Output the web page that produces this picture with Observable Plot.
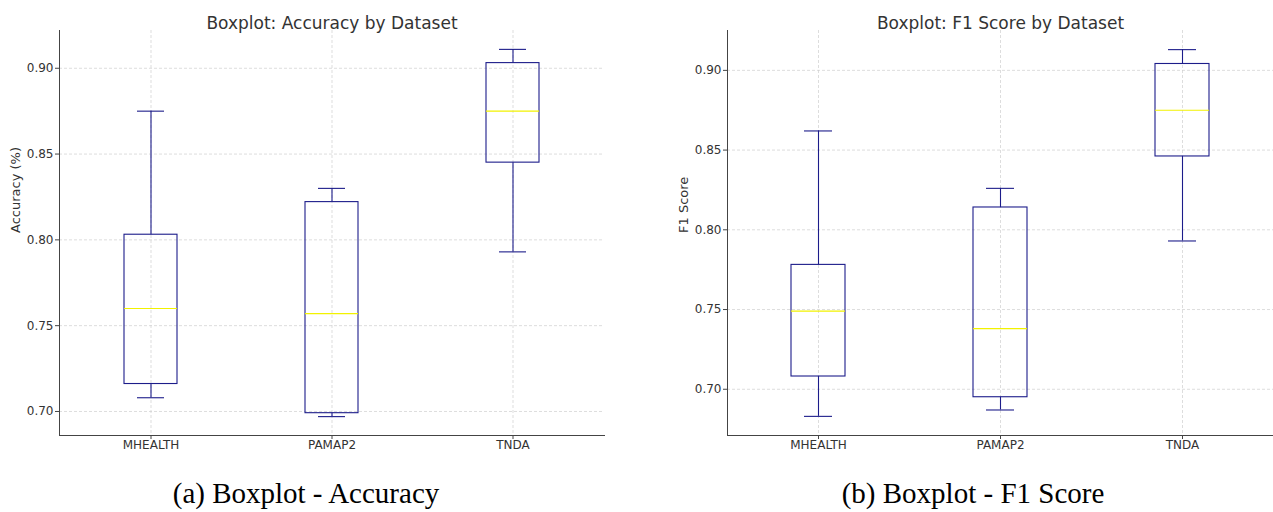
<!DOCTYPE html>
<html>
<head>
<meta charset="utf-8">
<script src="https://cdn.jsdelivr.net/npm/d3@7"></script>
<script src="https://cdn.jsdelivr.net/npm/@observablehq/plot@0.6"></script>
<style>
  html, body { margin: 0; padding: 0; background: #fff; }
  #wrap { position: relative; width: 1273px; height: 512px; overflow: hidden; }
  #left { position: absolute; left: 0; top: 0; }
  #right { position: absolute; left: 636px; top: 0; }
  .cap { position: absolute; top: 477px; font-family: "Liberation Serif", "Times New Roman", serif; font-size: 29px; color: #000; white-space: nowrap; transform: translateX(-50%); }
</style>
</head>
<body>
<div id="wrap">
  <div id="left"></div>
  <div id="right"></div>
  <div class="cap" id="capA" style="left:306px"></div>
  <div class="cap" id="capB" style="left:973px"></div>
</div>
<script>
// ---- data ----
const categories = ["MHEALTH", "PAMAP2", "TNDA"];

const accWhiskerLow  = [0.708, 0.697, 0.793];
const accQ1          = [0.716, 0.699, 0.845];
const accMedian      = [0.760, 0.757, 0.875];
const accQ3          = [0.803, 0.822, 0.903];
const accWhiskerHigh = [0.875, 0.830, 0.911];

const f1WhiskerLow  = [0.683, 0.687, 0.793];
const f1Q1          = [0.708, 0.695, 0.846];
const f1Median      = [0.749, 0.738, 0.875];
const f1Q3          = [0.778, 0.814, 0.904];
const f1WhiskerHigh = [0.862, 0.826, 0.913];

const yTicks = [0.70, 0.75, 0.80, 0.85, 0.90];

const titles = ["Boxplot: Accuracy by Dataset", "Boxplot: F1 Score by Dataset"];
const yLabels = ["Accuracy (%)", "F1 Score"];
const captions = ["(a) Boxplot - Accuracy", "(b) Boxplot - F1 Score"];

// ---- build ----
function rowsOf(lo, q1, med, q3, hi) {
  return categories.map((c, i) => ({cat: c, lo: lo[i], q1: q1[i], med: med[i], q3: q3[i], hi: hi[i]}));
}

const BOX = "#1c1c8a";
const FONT = "DejaVu Sans, sans-serif";

function makeChart({rows, title, ylabel, yDomain, width, marginLeft, marginRight}) {
  const gridStyle = {stroke: "#cfcfcf", strokeOpacity: 1, strokeDasharray: "3,2", strokeWidth: 0.7};
  return Plot.plot({
    width,
    height: 460,
    marginTop: 30,
    marginBottom: 25,
    marginLeft,
    marginRight,
    style: {fontFamily: FONT, fontSize: "12px", color: "#333", background: "white"},
    x: {type: "band", domain: categories, padding: 0},
    y: {domain: yDomain},
    marks: [
      Plot.gridY(yTicks, gridStyle),
      Plot.gridX(gridStyle),
      // whiskers
      Plot.ruleX(rows, {x: "cat", y1: "lo", y2: "q1", stroke: BOX, strokeWidth: 1.1}),
      Plot.ruleX(rows, {x: "cat", y1: "q3", y2: "hi", stroke: BOX, strokeWidth: 1.1}),
      // caps
      Plot.tickY(rows, {x: "cat", y: "lo", stroke: BOX, strokeWidth: 1.1, insetLeft: 77, insetRight: 77}),
      Plot.tickY(rows, {x: "cat", y: "hi", stroke: BOX, strokeWidth: 1.1, insetLeft: 77, insetRight: 77}),
      // boxes
      Plot.barY(rows, {x: "cat", y1: "q1", y2: "q3", fill: "none", stroke: BOX, strokeWidth: 1.1, insetLeft: 64, insetRight: 64}),
      // medians
      Plot.tickY(rows, {x: "cat", y: "med", stroke: "#f2f200", strokeWidth: 1.1, insetLeft: 64, insetRight: 64}),
      // spines
      Plot.frame({anchor: "left", stroke: "#444", strokeWidth: 1}),
      Plot.frame({anchor: "bottom", stroke: "#444", strokeWidth: 1}),
      // axes
      Plot.axisY(yTicks, {tickFormat: d => d.toFixed(2), tickSize: 4, tickPadding: 2, fontSize: 12, label: null, stroke: "#444", fill: "#333"}),
      Plot.axisX({tickSize: 4, tickPadding: 1, fontSize: 12, label: null, stroke: "#444", fill: "#333"}),
      // y label
      Plot.text([ylabel], {frameAnchor: "left", rotate: -90, dx: -44, fontSize: 13, fill: "#333"}),
      // title
      Plot.text([title], {frameAnchor: "top", dy: -14, fontSize: 17, fill: "#333"})
    ]
  });
}

document.getElementById("left").append(makeChart({
  rows: rowsOf(accWhiskerLow, accQ1, accMedian, accQ3, accWhiskerHigh),
  title: titles[0], ylabel: yLabels[0],
  yDomain: [0.686, 0.922], width: 636, marginLeft: 59, marginRight: 32
}));
document.getElementById("right").append(makeChart({
  rows: rowsOf(f1WhiskerLow, f1Q1, f1Median, f1Q3, f1WhiskerHigh),
  title: titles[1], ylabel: yLabels[1],
  yDomain: [0.671, 0.925], width: 637, marginLeft: 91, marginRight: 0
}));
document.getElementById("capA").textContent = captions[0];
document.getElementById("capB").textContent = captions[1];
</script>
</body>
</html>
